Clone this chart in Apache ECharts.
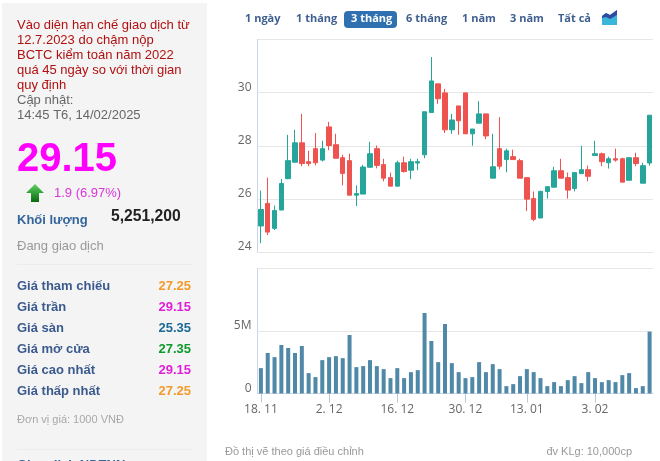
<!DOCTYPE html>
<html><head><meta charset="utf-8">
<style>html,body{margin:0;padding:0;background:#fff;overflow:hidden}#c{width:660px;height:461px}</style>
<script src="https://cdn.jsdelivr.net/npm/echarts@6/dist/echarts.min.js"></script>
</head><body><div id="c"></div>
<script>
const categories = ["18. 11","19. 11","20. 11","21. 11","22. 11","25. 11","26. 11","27. 11","28. 11","29. 11",
"2. 12","3. 12","4. 12","5. 12","6. 12","9. 12","10. 12","11. 12","12. 12","13. 12",
"16. 12","17. 12","18. 12","19. 12","20. 12","23. 12","24. 12","25. 12","26. 12","27. 12",
"30. 12","31. 12","2. 01","3. 01","6. 01","7. 01","8. 01","9. 01","10. 01",
"13. 01","14. 01","15. 01","16. 01","17. 01","20. 01","21. 01","22. 01","23. 01","24. 01",
"3. 02","4. 02","5. 02","6. 02","7. 02","10. 02","11. 02","13. 02","14. 02"];
const tickLabels = ["18. 11","2. 12","16. 12","30. 12","13. 01","3. 02"];
// [open, close, low, high]
const candles = [
[24.98,25.6,24.33,26.31],[25.83,24.75,24.64,26.8],[24.89,25.56,24.83,25.75],[25.58,26.58,25.58,26.75],
[26.76,27.44,26.74,28.41],[27.38,28.11,27.38,28.6],[28.11,27.33,27.23,29.2],[27.4,27.33,27.23,27.81],
[27.89,27.36,27.26,28.48],[27.46,27.89,27.41,28.19],[28.71,28.01,27.83,28.9],[28.04,27.53,27.53,28.45],
[27.55,26.96,26.51,27.66],[27.44,26.14,26.14,27.7],[26.14,26.2,25.73,26.51],[26.18,27.2,26.18,27.28],
[27.19,27.7,27.19,28.15],[27.89,27.26,27.15,28.01],[27.29,26.78,26.66,27.51],[26.8,26.48,26.48,26.99],
[26.48,27.36,26.48,27.44],[27.36,27.03,26.99,27.59],[27.08,27.4,26.74,27.51],[27.35,27.4,27.08,27.51],
[27.66,29.28,27.53,29.28],[29.25,30.44,29.25,31.34],[30.33,29.77,29.58,30.33],[29.99,28.6,28.48,30.14],
[28.6,28.97,28.45,29.2],[29.5,28.94,28.41,29.5],[29.99,28.45,28.45,29.99],[28.45,28.63,28.0,28.63],
[28.85,29.2,28.85,29.68],[29.2,28.37,28.25,29.2],[26.78,27.21,26.78,28.45],[27.89,27.23,27.11,29.08],
[27.48,27.81,27.0,27.89],[27.59,27.48,27.48,27.85],[27.44,26.78,26.78,27.51],[26.8,25.99,25.54,26.8],
[26.01,25.23,25.16,26.28],[25.28,26.28,25.28,26.31],[26.28,26.46,26.01,26.46],[26.44,27.06,26.44,27.21],
[27.06,26.78,26.78,27.51],[26.8,26.33,26.01,26.99],[26.39,26.99,26.28,26.99],[26.95,27.1,26.95,28.0],
[27.1,26.85,26.66,27.25],[27.63,27.7,27.63,28.19],[27.7,27.4,27.23,27.74],[27.36,27.51,27.14,27.59],
[27.51,27.46,27.4,27.89],[27.51,26.63,26.63,27.55],[26.7,27.55,26.7,27.55],[27.55,27.33,27.23,27.74],
[26.59,27.25,26.59,27.36],[27.35,29.15,27.25,29.15]];
// volume, millions of shares
const volumes = [2.03,3.24,2.91,3.88,3.64,3.24,3.8,1.63,1.31,2.67,2.91,2.99,2.83,4.68,2.11,2.19,2.67,2.19,1.95,1.23,
2.03,1.23,1.71,1.87,6.44,4.2,2.51,5.56,2.43,1.71,1.23,1.31,2.51,1.71,2.35,1.95,0.59,0.75,1.39,1.95,
1.71,1.23,0.59,0.91,0.59,1.07,1.39,0.83,1.71,1.23,0.91,1.07,0.91,1.47,1.63,0.43,0.59,4.95];
const rangeTabs = ["1 ngày","1 tháng","3 tháng","6 tháng","1 năm","3 năm","Tất cả"];
const rangeTabX = [245,296,351,406,462,510,558];
const noticeLines = ["Vào diện hạn chế giao dịch từ","12.7.2023 do chậm nộp","BCTC kiểm toán năm 2022","quá 45 ngày so với thời gian","quy định"];
const infoRows = [["Giá tham chiếu","27.25","#f39a2b"],["Giá trần","29.15","#e01fd8"],["Giá sàn","25.35","#1b6a96"],
["Giá mở cửa","27.35","#0c9a2c"],["Giá cao nhất","29.15","#e01fd8"],["Giá thấp nhất","27.25","#f39a2b"]];

const AR = "Liberation Sans, Arial, sans-serif";
const OS = "Open Sans, sans-serif";
const T = (x,y,text,fontSize,fill,fontWeight,align,fontFamily) => ({type:'text',x,y,silent:true,
  style:{text,fontSize,fill,fontWeight:fontWeight||'normal',align:align||'left',verticalAlign:'middle',fontFamily:fontFamily||AR}});
const graphic = [
 {type:'rect',shape:{x:2,y:3,width:205,height:458},style:{fill:'#f4f4f4'},silent:true},
 ...noticeLines.map((s,i)=>T(17,25+i*15.2,s,13,'#b01010')),
 T(17,100,"Cập nhật:",13,'#666'),
 T(17,115,"14:45 T6, 14/02/2025",13,'#666'),
 T(17,160,"29.15",40,'#ff00ff','bold'),
 {type:'polygon',shape:{points:[[35,184],[44,193],[39,193],[39,202],[31,202],[31,193],[26,193]]},
  style:{fill:new echarts.graphic.LinearGradient(0,0,0,1,[{offset:0,color:'#5fd35f'},{offset:1,color:'#066b10'}])},silent:true},
 T(54,193,"1.9 (6.97%)",13,'#d935d9'),
 T(17,220,"Khối lượng",13,'#34659b','bold'),
 T(111,217,"5,251,200",15.7,'#222','bold'),
 T(17,246,"Đang giao dịch",13,'#999'),
 {type:'rect',shape:{x:17,y:264,width:175,height:1},style:{fill:'#ececec'},silent:true},
 ...infoRows.flatMap((r,i)=>[T(17,286+i*21,r[0],13,'#3a5a8e','bold'),T(191,286+i*21,r[1],13,r[2],'bold','right')]),
 T(17,420,"Đơn vị giá: 1000 VNĐ",11,'#a8a8a8'),
 {type:'rect',shape:{x:17,y:449,width:175,height:1},style:{fill:'#ececec'},silent:true},
 T(17,465,"Giao dịch NĐTNN",13,'#34659b','bold'),
 {type:'rect',shape:{x:344,y:11,width:53,height:17,r:4},style:{fill:'#2f70b0'},silent:true},
 ...rangeTabs.map((s,i)=>T(rangeTabX[i],19,s,11,i===2?'#fff':'#3f5f8f','bold','left',OS)),
 {type:'polygon',shape:{points:[[602,25],[602,16],[606,13],[610,15],[617,10],[617,25]]},style:{fill:'#3ab6d8'},silent:true},
 {type:'polygon',shape:{points:[[602,18],[602,16],[606,13],[610,15],[617,10],[617,15],[610,19],[606,17]]},style:{fill:'#2f4aa0'},silent:true},
 T(225,452,"Đồ thị vẽ theo giá điều chỉnh",11,'#999'),
 T(632,452,"đv KLg: 10,000cp",11,'#999','normal','right')
];
const showTick = (i,v)=>tickLabels.includes(v);
const splitLine = {show:true,lineStyle:{color:'#e6e6e6',width:1}};
const blueLine = {show:true,lineStyle:{color:'#ccd6eb',width:1}};
const yLabel = {color:'#666',fontSize:12,fontFamily:OS,margin:6,verticalAlign:'bottom',lineHeight:10,showMaxLabel:false};
const option = {
 animation:false,backgroundColor:'#fff',graphic,
 grid:[{left:257.5,top:39.5,width:395.5,height:212.5},{left:257.5,top:268.5,width:395.5,height:125}],
 xAxis:[
  {type:'category',gridIndex:0,data:categories,boundaryGap:true,axisLabel:{show:false},axisTick:{show:false},axisLine:{show:true,lineStyle:{color:'#e6e6e6'}},splitLine:{show:false}},
  {type:'category',gridIndex:1,data:categories,boundaryGap:true,
   axisLabel:{interval:showTick,color:'#666',fontSize:12,fontFamily:OS,margin:10,hideOverlap:false},
   axisTick:{show:true,interval:showTick,alignWithLabel:true,length:9,lineStyle:{color:'#b8c6de'}},
   axisLine:blueLine,splitLine:{show:false}}
 ],
 yAxis:[
  {type:'value',gridIndex:0,min:24,max:32,interval:2,axisLabel:yLabel,axisLine:blueLine,axisTick:{show:false},splitLine},
  {type:'value',gridIndex:1,min:0,max:10,interval:5,axisLabel:{...yLabel,formatter:v=>v===0?'0':v+'M'},axisLine:blueLine,axisTick:{show:false},splitLine}
 ],
 series:[
  {type:'candlestick',xAxisIndex:0,yAxisIndex:0,data:candles,barWidth:5,
   itemStyle:{color:'#26a69a',color0:'#ef5350',borderColor:'#26a69a',borderColor0:'#ef5350',borderWidth:1}},
  {type:'bar',xAxisIndex:1,yAxisIndex:1,data:volumes,barWidth:4,itemStyle:{color:'#5088a8'}}
 ]
};
echarts.init(document.getElementById('c')).setOption(option);
</script></body></html>
